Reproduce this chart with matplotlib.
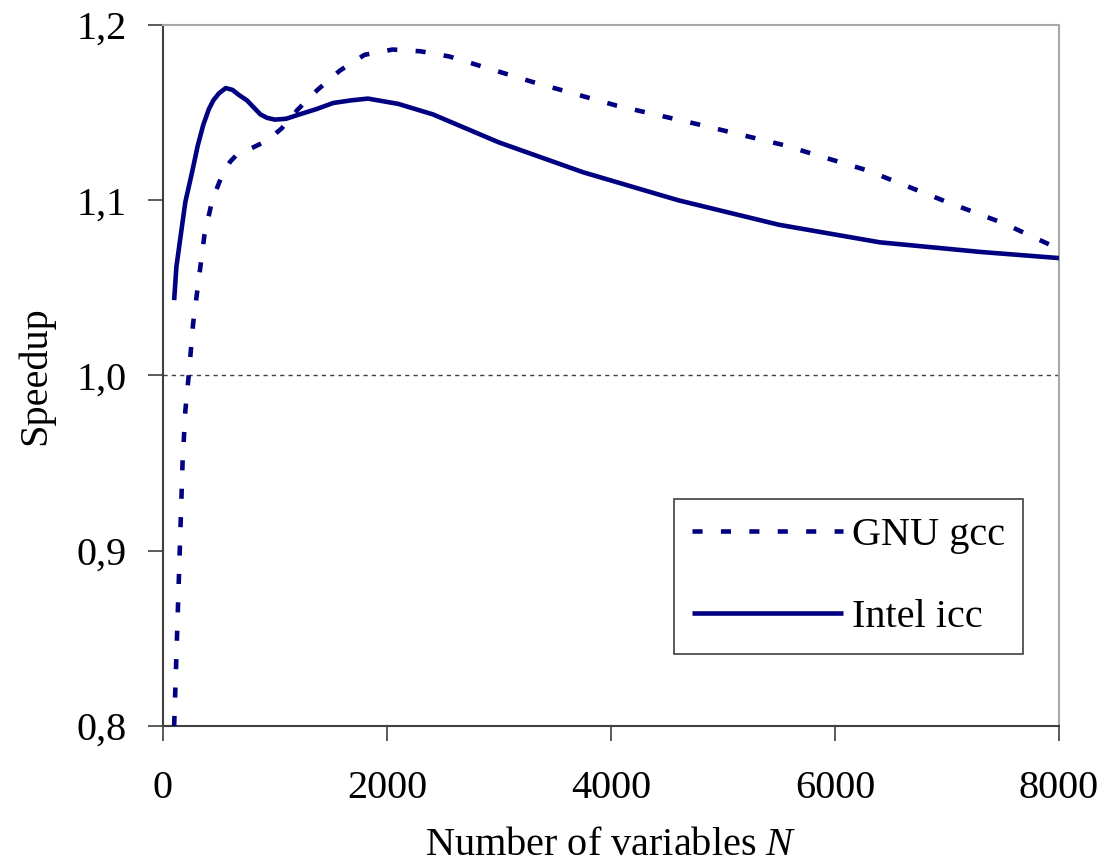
import matplotlib
matplotlib.use('Agg')
import matplotlib.pyplot as plt
from matplotlib.ticker import FuncFormatter, MultipleLocator

plt.rcParams['font.family'] = ['Liberation Serif', 'DejaVu Serif']
plt.rcParams['mathtext.fontset'] = 'custom'
plt.rcParams['mathtext.rm'] = 'Liberation Serif'
plt.rcParams['mathtext.it'] = 'Liberation Serif:italic'

# GNU gcc (dashed)
gcc_n = [100, 130, 150, 175, 200, 230, 270, 310, 370, 440, 520, 600, 660, 800, 930,
         1060, 1200, 1380, 1580, 1800, 2050, 2300, 2560, 3300, 4050, 4800, 5540,
         6290, 7000, 7500, 7940, 8000]
gcc_speedup = [0.80, 0.86, 0.90, 0.95, 0.98, 1.00, 1.03, 1.05, 1.08, 1.10, 1.113,
               1.122, 1.126, 1.130, 1.134, 1.141, 1.1515, 1.163, 1.174, 1.183, 1.186,
               1.185, 1.182, 1.1675, 1.154, 1.143, 1.1315, 1.117, 1.099, 1.087,
               1.074, 1.072]

# Intel icc (solid)
icc_n = [100, 120, 150, 200, 260, 310, 360, 410, 450, 500, 560, 620, 680, 750, 810,
         870, 930, 1000, 1100, 1220, 1370, 1520, 1680, 1830, 2100, 2410, 3000, 3750,
         4600, 5500, 6400, 7300, 8000]
icc_speedup = [1.043, 1.062, 1.076, 1.099, 1.116, 1.131, 1.143, 1.152, 1.157, 1.161,
               1.164, 1.163, 1.160, 1.157, 1.153, 1.149, 1.147, 1.146, 1.1465, 1.149,
               1.152, 1.1555, 1.157, 1.158, 1.155, 1.149, 1.133, 1.116, 1.100, 1.086,
               1.076, 1.0705, 1.067]

x_ticks = [0, 2000, 4000, 6000, 8000]
line_color = '#000080'

fig = plt.figure(figsize=(11.04, 8.68), dpi=100)
ax = fig.add_axes([0.1476, 0.1636, 0.8116, 0.8076])

# reference line at speedup 1
ax.axhline(1.0, color='#404040', lw=1.0, ls=(0, (3, 3)), zorder=1)

ax.plot(gcc_n, gcc_speedup, color=line_color, lw=3.3, ls=(0, (2.2, 4.0)),
        dash_capstyle='butt', label='GNU gcc', zorder=3)
ax.plot(icc_n, icc_speedup, color=line_color, lw=3.3, solid_capstyle='butt',
        solid_joinstyle='round', label='Intel icc', zorder=3)

ax.set_xlim(0, 8000)
ax.set_ylim(0.8, 1.2)
ax.set_xticks(x_ticks)
ax.yaxis.set_major_locator(MultipleLocator(0.1))
ax.yaxis.set_major_formatter(FuncFormatter(lambda v, p: f'{v:.1f}'.replace('.', ',')))

ax.tick_params(axis='both', direction='out', length=11, width=1.2, color='#404040',
               labelsize=29)
ax.tick_params(axis='x', pad=21)
ax.tick_params(axis='y', pad=15)

for side in ['left', 'bottom']:
    ax.spines[side].set_color('#404040')
    ax.spines[side].set_linewidth(1.5)
for side in ['top', 'right']:
    ax.spines[side].set_color('#a8a8a8')
    ax.spines[side].set_linewidth(1.5)

ax.set_xlabel(r'Number of variables $N$', fontsize=29, labelpad=14)
ax.set_ylabel('Speedup', fontsize=29, labelpad=16)

leg = ax.legend(loc='upper left', bbox_to_anchor=(0.5703, 0.3238), fontsize=29,
                frameon=True, fancybox=False, handlelength=3.75, handletextpad=0.22,
                labelspacing=1.1, borderpad=0.45, borderaxespad=0, framealpha=1)
leg.get_frame().set_edgecolor('#404040')
leg.get_frame().set_linewidth(1.2)

fig.savefig('out.png', dpi=100)
plt.close(fig)
